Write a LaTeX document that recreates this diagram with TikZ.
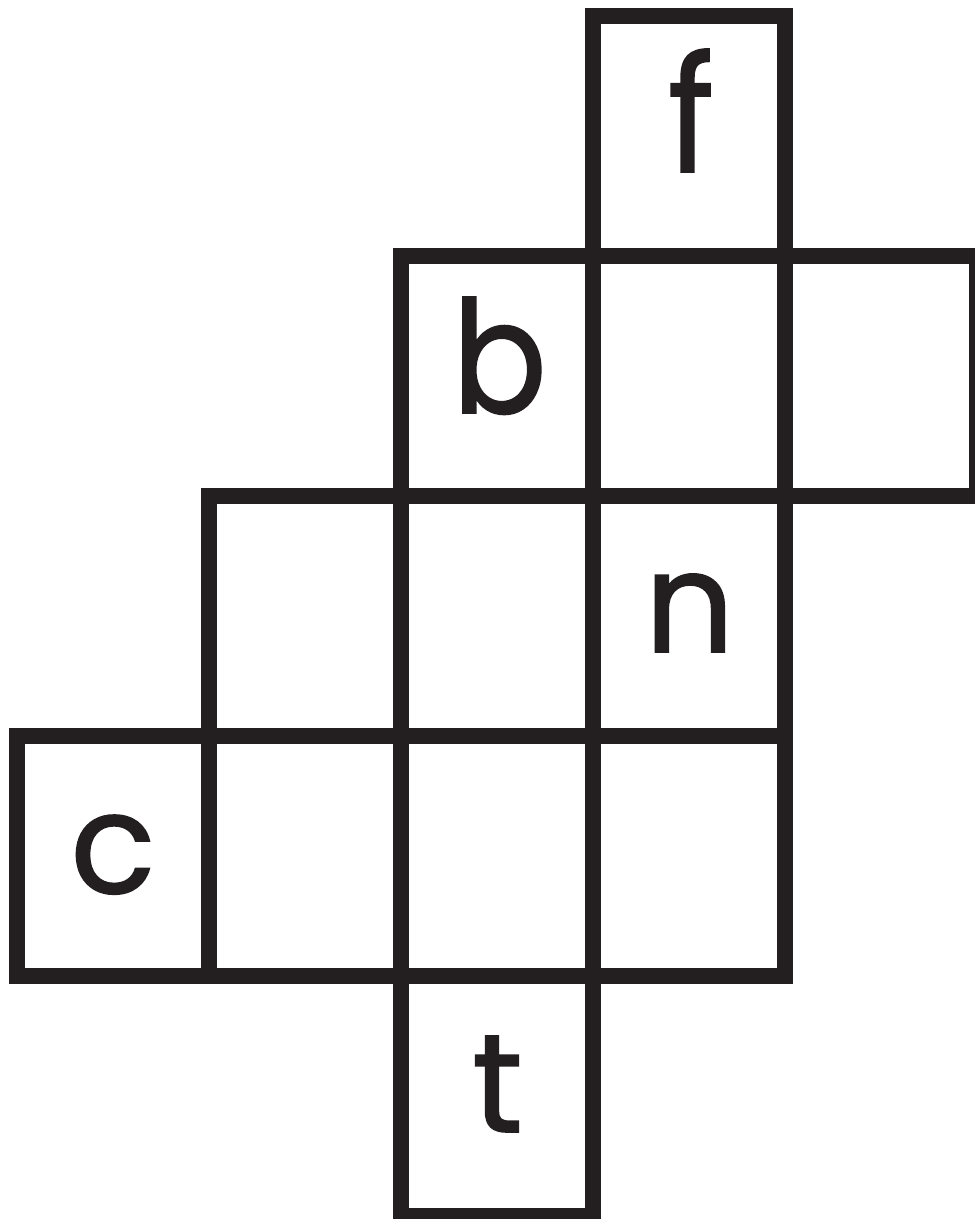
\documentclass[tikz,border=0pt]{standalone}
\usepackage{fontspec}
\newfontfamily\letterfont{Poppins}[FakeBold=1.2]
\definecolor{ink}{HTML}{231F20}
\begin{document}
\begin{tikzpicture}[x=1pt,y=-1pt,
  cell/.style={draw=ink, line width=16pt, minimum width=192pt, minimum height=240pt, inner sep=0pt, outer sep=0pt},
  letter/.style={font=\letterfont\fontsize{140}{140}\selectfont, text=ink, inner sep=0pt, anchor=base}]
\useasboundingbox (0,0) rectangle (975,1219);
% row 0
\node[cell] (cf) at (689,136) {};
% row 1
\node[cell] (cb) at (497,376) {};
\node[cell] (r1c3) at (689,376) {};
\node[cell] (r1c4) at (881,376) {};
% row 2
\node[cell] (r2c1) at (305,616) {};
\node[cell] (r2c2) at (497,616) {};
\node[cell] (cn) at (689,616) {};
% row 3
\node[cell] (cc) at (113,856) {};
\node[cell] (r3c1) at (305,856) {};
\node[cell] (r3c2) at (497,856) {};
\node[cell] (r3c3) at (689,856) {};
% row 4
\node[cell] (ct) at (497,1096) {};
% letters
\node[letter] (lf) at (691,172) {\scalebox{1}[1.15]{f}};
\node[letter] (lb) at (499.5,413) {\scalebox{1}[1.12]{b}};
\node[letter] (ln) at (689.5,652) {n};
\node[letter] (lc) at (113,893) {c};
\node[letter] (lt) at (497.5,1132) {t};
\end{tikzpicture}
\end{document}
